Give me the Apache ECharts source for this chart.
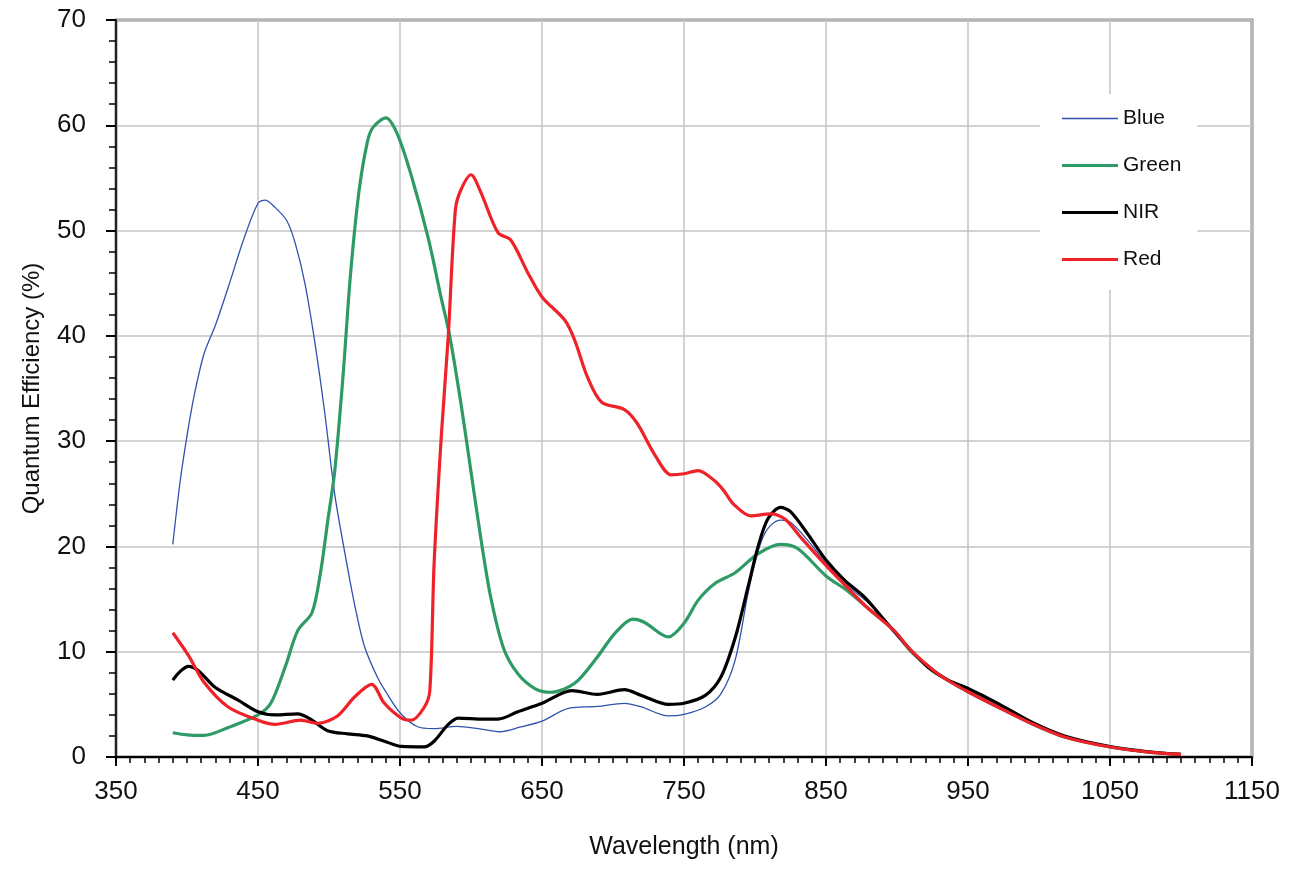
<!DOCTYPE html>
<html>
<head>
<meta charset="utf-8">
<script src="https://cdn.jsdelivr.net/npm/echarts@6/dist/echarts.min.js"></script>
<style>
html,body{margin:0;padding:0;background:#fff;}
#chart{width:1296px;height:871px;}
</style>
</head>
<body>
<div id="chart"></div>
<script>
// ---- Data ----
const blueNm  = [390,395,400,405,412,420,429,440,450,455,462,470,476,483,490,497,504,511,518,525,534,540,550,562,574,590,605,620,635,650,668,689,708,720,739,750,765,776,786,795,801,806,811,818,825,837,850,865,880,895,910,925,940,950,970,995,1018,1050,1077,1100];
const blueQE  = [20.2,26,30.5,34.3,38.3,41,44.6,49.2,52.6,52.9,52.2,51,48.9,45,39.4,32.7,25,19.5,14.5,10.5,7.6,6.2,4.2,2.9,2.7,2.9,2.7,2.4,2.85,3.4,4.6,4.8,5.1,4.75,3.9,4.05,4.75,6.0,9.2,15.5,19,21,22,22.5,22.3,20.6,18.4,16.3,14.6,12.5,10.1,8.3,7.0,6.3,5.0,3.3,2.0,0.95,0.5,0.25];

const greenNm = [390,400,412,429,450,459,469,478,488,494,499,504,510,515,521,527,531,540,548,558,570,579,585,593,600,607,614,623,633,645,656,673,689,701,714,722,739,750,760,772,786,802,818,830,850,865,879,898,910,926,938,950,971,995,1018,1050,1077,1100];
const greenQE = [2.3,2.1,2.05,2.8,4.0,5.1,8.5,12.0,13.7,17.5,22.3,27.1,36.4,45.6,53.6,58.4,59.8,60.7,59.2,55.2,49.2,43.6,40,33.5,27.1,20.7,15.1,10.3,7.9,6.5,6.15,7.0,9.5,11.7,13.1,12.8,11.4,12.7,14.9,16.5,17.5,19.3,20.2,19.8,17.2,15.8,14.2,12.0,10.0,8.2,7.1,6.2,4.75,3.15,1.9,0.95,0.47,0.25];

const nirNm   = [390,395,401,408,420,436,450,462,478,488,499,513,527,539,551,567,574,584,591,609,619,633,650,671,689,708,720,739,750,765,776,786,795,802,809,818,825,837,850,863,877,893,908,922,936,950,971,995,1018,1050,1077,1100];
const nirQE   = [7.3,8.1,8.6,8.2,6.6,5.4,4.3,4.0,4.1,3.5,2.5,2.2,2.0,1.5,1.0,0.96,1.5,3.1,3.7,3.6,3.6,4.3,5.1,6.3,5.95,6.4,5.85,5.0,5.1,5.85,7.6,11.3,16.1,19.9,22.6,23.7,23.3,21.2,18.7,16.8,15.2,12.7,10.4,8.5,7.3,6.5,5.1,3.3,2.0,1.0,0.5,0.25];

const redNm   = [390,401,412,429,450,462,480,492,506,518,530,539,551,558,567,571,574,579,584,589,593,600,607,619,628,640,650,666,673,682,692,708,717,729,741,750,760,771,778,785,797,811,821,832,850,865,879,898,910,926,938,950,971,995,1018,1050,1077,1100];
const redQE   = [11.8,9.65,7.1,4.75,3.5,3.1,3.5,3.2,3.9,5.7,6.9,5.1,3.7,3.5,4.7,6.3,18.3,30.3,40,52,53.9,55.3,53.6,49.8,49.1,46,43.7,41.5,39.6,36.1,33.7,33,31.7,28.8,26.8,26.9,27.2,26.3,25.3,24,22.9,23.1,22.6,20.9,18.2,16.1,14.2,12.0,10.1,8.2,7.1,6.2,4.75,3.16,1.9,0.95,0.47,0.25];

const seriesNames = ['Blue','Green','NIR','Red'];
const xTitle = 'Wavelength (nm)';
const yTitle = 'Quantum Efficiency (%)';

function zip(a,b){ return a.map((v,i)=>[v,b[i]]); }

const FONT = '"Liberation Sans", Arial, sans-serif';
const chart = echarts.init(document.getElementById('chart'), null, {renderer:'canvas'});

const styles = {
  Blue:  {color:'#3152ac', width:1.3},
  Green: {color:'#2e9a66', width:3.2},
  NIR:   {color:'#000000', width:3.2},
  Red:   {color:'#ee2228', width:3.2}
};

function mkSeries(name, nm, qe, z){
  const s = styles[name];
  return {
    name: name, type:'line', data: zip(nm,qe),
    smooth: 0.3,
    showSymbol:false, symbol:'none', z: z,
    lineStyle:{color:s.color, width:s.width},
    itemStyle:{color:s.color},
    emphasis:{disabled:true}
  };
}

chart.setOption({
  animation:false,
  backgroundColor:'#fff',
  grid:{left:116, right:44, top:20, bottom:114, show:true, borderColor:'#888', borderWidth:3, containLabel:false},
  legend:{
    data: seriesNames.map(n=>({
      name:n,
      icon:'path://M0,0H56V' + styles[n].width + 'H0Z'
    })),
    symbolKeepAspect:true,
    orient:'vertical', left:1040, top:94,
    padding:[14,16,20,22], itemGap:26, itemWidth:56, itemHeight:14,
    backgroundColor:'#fff',
    textStyle:{fontFamily:FONT, fontSize:21, color:'#111'},
    selectedMode:false
  },
  xAxis:{
    type:'value', min:350, max:1150, interval:100,
    name:xTitle, nameLocation:'middle', nameGap:78,
    nameTextStyle:{fontFamily:FONT, fontSize:25, color:'#111'},
    axisLine:{show:true, onZero:false, lineStyle:{color:'#000', width:2}},
    axisTick:{show:true, inside:false, length:9, lineStyle:{color:'#000', width:2}},
    minorTick:{show:true, splitNumber:10, length:6, lineStyle:{color:'#000', width:1.5}},
    axisLabel:{fontFamily:FONT, fontSize:26, color:'#111', margin:22, formatter:(v)=>String(v)},
    splitLine:{show:true, lineStyle:{color:'#c4c4c4', width:1.5}},
    minorSplitLine:{show:false}
  },
  yAxis:{
    type:'value', min:0, max:70, interval:10,
    name:yTitle, nameLocation:'middle', nameGap:72, nameRotate:90,
    nameTextStyle:{fontFamily:FONT, fontSize:24, color:'#111'},
    axisLine:{show:true, onZero:false, lineStyle:{color:'#222', width:2}},
    axisTick:{show:true, inside:false, length:10, lineStyle:{color:'#000', width:2}},
    minorTick:{show:true, splitNumber:5, length:7, lineStyle:{color:'#000', width:1.5}},
    axisLabel:{fontFamily:FONT, fontSize:26, color:'#111', margin:30, formatter:(v)=>String(v)},
    splitLine:{show:true, lineStyle:{color:'#c4c4c4', width:1.5}}
  },
  series:[
    mkSeries('Blue',  blueNm,  blueQE,  2),
    mkSeries('Green', greenNm, greenQE, 3),
    mkSeries('NIR',   nirNm,   nirQE,   4),
    mkSeries('Red',   redNm,   redQE,   5)
  ]
});
</script>
</body>
</html>
